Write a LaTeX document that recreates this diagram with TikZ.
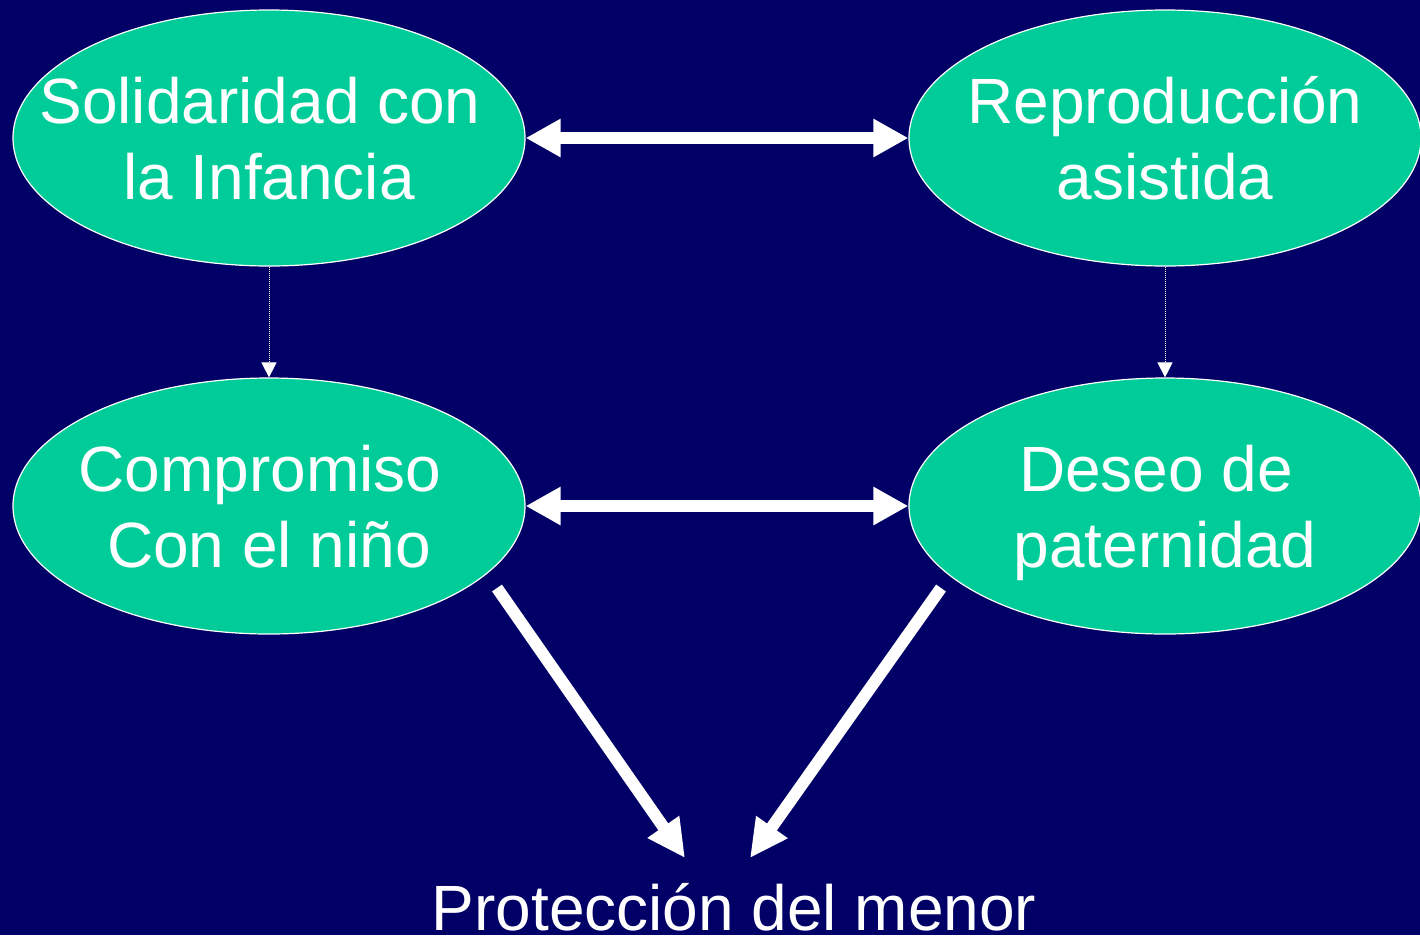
\documentclass[tikz,border=0pt]{standalone}
\usepackage{fontspec}
\setmainfont{Liberation Sans}
\usetikzlibrary{arrows.meta,shapes.geometric}
\definecolor{bgnavy}{HTML}{000066}
\definecolor{ovalgreen}{HTML}{00CC99}
\newcommand{\ovaltext}[1]{\raisebox{-15pt}[0pt][0pt]{\makebox[0pt][c]{\begin{tabular}{@{}c@{}}#1\end{tabular}}}}
\newcommand{\tsp}{\hspace*{0.278em}}
\begin{document}
\begin{tikzpicture}[x=1pt,y=-1pt,
  oval/.style={ellipse, draw=white, line width=1.2pt, fill=ovalgreen, minimum width=512pt, minimum height=256pt, inner sep=0pt, text=white, font=\fontsize{64}{76}\selectfont},
  bigarrow/.style={draw=white, line width=12pt, -{Triangle[length=38pt,width=36pt]}},
  dblarrow/.style={draw=white, line width=12pt, {Triangle[length=35pt,width=36pt]}-{Triangle[length=35pt,width=36pt]}},
  dotarrow/.style={draw=white, line width=1pt, densely dotted, -{Triangle[length=15pt,width=15pt]}}
]
\fill[bgnavy] (0,0) rectangle (1420,935);
\useasboundingbox (0,0) rectangle (1420,935);
\node[oval] (sol) at (269,138) {\ovaltext{Solidaridad con\tsp\\la Infancia}};
\node[oval] (rep) at (1165,138) {\ovaltext{Reproducción\\asistida}};
\node[oval] (com) at (269,506) {\ovaltext{Compromiso\tsp\\Con el niño}};
\node[oval] (des) at (1165,506) {\ovaltext{Deseo de\tsp\\paternidad}};
\node[text=white, font=\fontsize{64}{76}\selectfont, anchor=base, inner sep=0pt] (pro) at (734,930) {Protección del menor};
\coordinate (pl) at (685,858);
\coordinate (pr) at (750,858);
\draw[dblarrow] (sol.east) -- (rep.west);
\draw[dblarrow] (com.east) -- (des.west);
\draw[dotarrow] (sol.south) -- (com.north);
\draw[dotarrow] (rep.south) -- (des.north);
\draw[bigarrow] (497,588) -- (pl);
\draw[bigarrow] (941,588) -- (pr);
\end{tikzpicture}
\end{document}
